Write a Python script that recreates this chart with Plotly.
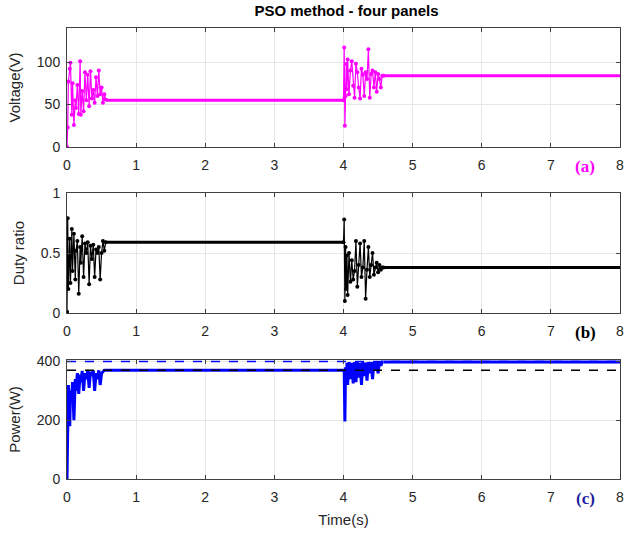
import plotly.graph_objects as go

# ---- data ----
t1 = [0.00,0.01,0.02,0.04,0.05,0.07,0.08,0.10,0.12,0.13,0.15,0.17,0.19,0.20,0.22,0.24,
      0.26,0.28,0.30,0.32,0.34,0.36,0.38,0.40,0.42,0.44,0.46,0.48,0.50,0.52,0.54,0.56]
t2 = [4.00,4.01,4.02,4.03,4.04,4.05,4.06,4.08,4.10,4.12,4.14,4.16,4.18,4.20,4.22,4.24,
      4.26,4.28,4.30,4.32,4.34,4.36,4.38,4.40,4.42,4.44,4.46,4.48,4.50,4.52,4.54,4.56,4.58]
t_end = 8.0

v1 = [0,23,77,92,99,38,75,26,55,46,73,39,101,38,66,42,88,55,85,48,89,57,67,52,82,60,90,62,70,52,62,56]
v2 = [55,117,25,60,98,68,103,62,90,101,72,58,98,88,70,57,92,85,60,88,80,115,58,86,90,70,88,65,86,80,70,84,84]
v_ss = [55, 84]

d1 = [0.01,0.79,0.20,0.62,0.25,0.70,0.35,0.66,0.28,0.52,0.60,0.16,0.55,0.42,0.64,0.30,
      0.58,0.50,0.59,0.24,0.56,0.45,0.57,0.30,0.53,0.50,0.55,0.28,0.50,0.60,0.52,0.59]
d2 = [0.59,0.78,0.10,0.55,0.20,0.48,0.15,0.50,0.26,0.44,0.28,0.35,0.60,0.22,0.40,0.58,
      0.30,0.38,0.60,0.12,0.36,0.55,0.30,0.40,0.50,0.32,0.38,0.42,0.34,0.40,0.36,0.38,0.38]
d_ss = [0.59, 0.38]

p1 = [0,200,320,180,300,290,330,200,340,300,360,290,355,330,368,300,360,340,370,310,
      365,350,370,300,360,340,370,320,360,365,370,370]
p2 = [370,370,196,380,330,395,320,398,340,395,325,398,330,398,345,395,320,398,350,396,
      335,398,360,398,340,398,370,398,360,398,385,398,398]
p_ss = [370, 398]
p_ref_blue = 400
p_ref_black = 370

x_ticks = [0,1,2,3,4,5,6,7,8]

MAG = "#FF00FF"
BLU = "#0000FF"

fig = go.Figure()

def add_panel(ya, xa, s1, s2, ss, color, markers=True, tw=1.2):
    mode = "lines+markers" if markers else "lines"
    for tt, yy in ((t1, s1), (t2, s2)):
        fig.add_trace(go.Scatter(x=tt, y=yy, mode=mode, xaxis=xa, yaxis=ya,
                                 line=dict(color=color, width=tw),
                                 marker=dict(color=color, size=4), showlegend=False))
    fig.add_trace(go.Scatter(x=[t1[-1], t2[0]], y=[ss[0], ss[0]], mode="lines",
                             xaxis=xa, yaxis=ya, line=dict(color=color, width=3), showlegend=False))
    fig.add_trace(go.Scatter(x=[t2[-1], t_end], y=[ss[1], ss[1]], mode="lines",
                             xaxis=xa, yaxis=ya, line=dict(color=color, width=3), showlegend=False))

add_panel("y", "x", v1, v2, v_ss, MAG)
add_panel("y2", "x2", d1, d2, d_ss, "black")
# power reference lines
fig.add_trace(go.Scatter(x=[0, t_end], y=[p_ref_blue, p_ref_blue], mode="lines", xaxis="x3", yaxis="y3",
                         line=dict(color=BLU, width=1.5, dash="dash"), showlegend=False))
add_panel("y3", "x3", p1, p2, p_ss, BLU, markers=False, tw=3)
fig.add_trace(go.Scatter(x=[0, t_end], y=[p_ref_black, p_ref_black], mode="lines", xaxis="x3", yaxis="y3",
                         line=dict(color="black", width=1.5, dash="dash"), showlegend=False))

axcol = "#404040"
common_x = dict(range=[0, 8], tickvals=x_ticks, showgrid=True, gridcolor="#e6e6e6",
                ticks="inside", ticklen=4, tickcolor=axcol, linecolor=axcol, linewidth=1,
                mirror="ticks", showline=True, zeroline=False, ticklabelstandoff=5,
                tickfont=dict(family="Arial", size=14, color="#262626"))
common_y = dict(showgrid=True, gridcolor="#e6e6e6", ticks="inside", ticklen=4, tickcolor=axcol,
                linecolor=axcol, linewidth=1, mirror="ticks", showline=True, zeroline=False,
                ticklabelstandoff=3,
                tickfont=dict(family="Arial", size=14, color="#262626"),
                title_font=dict(family="Arial", size=15, color="#262626"), title_standoff=12)

fig.update_layout(
    width=630, height=537, plot_bgcolor="white", paper_bgcolor="white",
    margin=dict(l=67, r=6, t=28, b=58),
    title=dict(text="<b>PSO method - four panels</b>", x=0.55, xanchor="center", y=0.99, yanchor="top",
               font=dict(family="Arial", size=15, color="black")),
    xaxis=dict(domain=[0, 1], anchor="y", **common_x),
    xaxis2=dict(domain=[0, 1], anchor="y2", **common_x),
    xaxis3=dict(domain=[0, 1], anchor="y3", title=dict(text="Time(s)", font=dict(family="Arial", size=15, color="#262626"), standoff=10), **common_x),
    yaxis=dict(domain=[0.736, 1.0], range=[0, 140], tickvals=[0, 50, 100], title_text="Voltage(V)", **common_y),
    yaxis2=dict(domain=[0.368, 0.634], range=[0, 1], tickvals=[0, 0.5, 1], title_text="Duty ratio", **common_y),
    yaxis3=dict(domain=[0, 0.2639], range=[0, 405], tickvals=[0, 200, 400], title_text="Power(W)", **common_y),
)

for txt, col, yv in (("(a)", MAG, 0.736), ("(b)", "black", 0.368), ("(c)", "#1f1fa0", 0.0)):
    fig.add_annotation(text="<b>%s</b>" % txt, x=7.5, y=yv, xref="x", yref="paper",
                       xanchor="center", yanchor="top", yshift=-8, showarrow=False,
                       font=dict(family="Liberation Serif", size=17, color=col))

fig.write_html("out.html")
